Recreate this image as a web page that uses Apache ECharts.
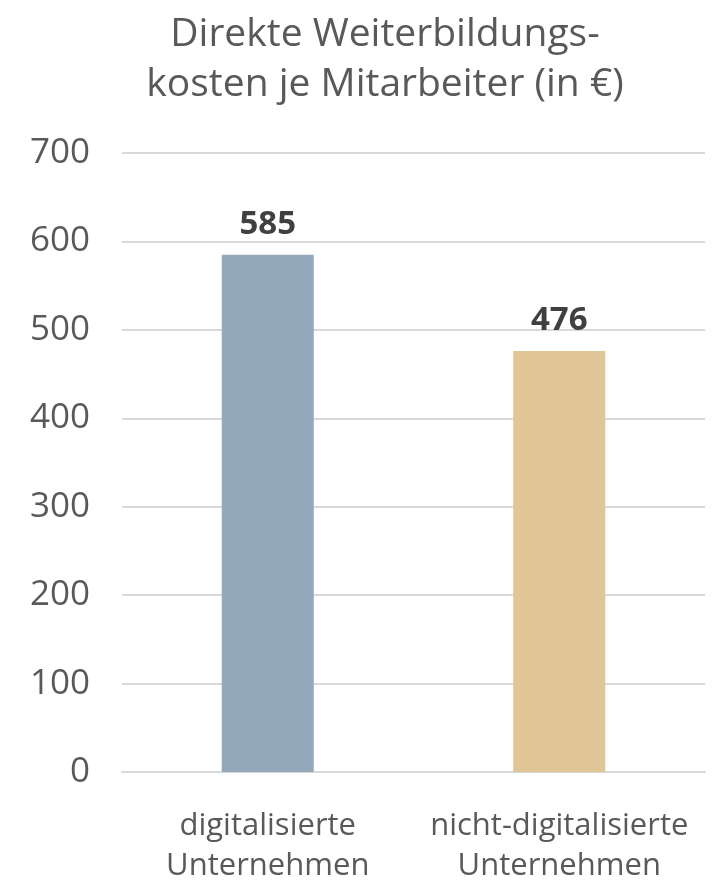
<!DOCTYPE html>
<html>
<head>
<meta charset="utf-8">
<script src="https://cdn.jsdelivr.net/npm/echarts@6/dist/echarts.min.js"></script>
<style>
  html, body { margin: 0; padding: 0; background: #fff; }
  #chart { width: 715px; height: 882px; }
</style>
</head>
<body>
<div id="chart"></div>
<script>
// Daten
var categories = ['digitalisierte\nUnternehmen', 'nicht-digitalisierte\nUnternehmen'];
var values = [585, 476];
var barColors = ['#93A8BB', '#E0C596'];
var titleText = 'Direkte Weiterbildungs-\nkosten je Mitarbeiter (in €)';

var chart = echarts.init(document.getElementById('chart'));
var font = '"Open Sans", "Noto Sans", sans-serif';

var option = {
  animation: false,
  title: {
    text: titleText,
    left: 380,
    top: 5,
    textAlign: 'center',
    textStyle: {
      fontFamily: font,
      fontSize: 39,
      fontWeight: 'normal',
      color: '#595959',
      lineHeight: 50
    }
  },
  grid: {
    left: 122,
    right: 10,
    top: 153,
    bottom: 110,
    outerBoundsMode: 'none'
  },
  xAxis: {
    type: 'category',
    data: categories,
    axisLine: { lineStyle: { color: '#D9D9D9', width: 2 } },
    axisTick: { show: false },
    axisLabel: {
      interval: 0,
      hideOverlap: false,
      fontFamily: font,
      fontSize: 31,
      color: '#595959',
      lineHeight: 40,
      margin: 34
    }
  },
  yAxis: {
    type: 'value',
    min: 0,
    max: 700,
    interval: 100,
    axisLine: { show: false },
    axisTick: { show: false },
    splitLine: { lineStyle: { color: '#D9D9D9', width: 2 } },
    axisLabel: {
      fontFamily: font,
      fontSize: 35,
      color: '#595959',
      margin: 32
    }
  },
  series: [{
    type: 'bar',
    barWidth: 92,
    data: values.map(function (v, i) {
      return { value: v, itemStyle: { color: barColors[i] } };
    }),
    label: {
      show: true,
      position: 'top',
      distance: 14,
      fontFamily: font,
      fontSize: 33,
      fontWeight: 'bold',
      color: '#404040'
    }
  }]
};

chart.setOption(option);
</script>
</body>
</html>
